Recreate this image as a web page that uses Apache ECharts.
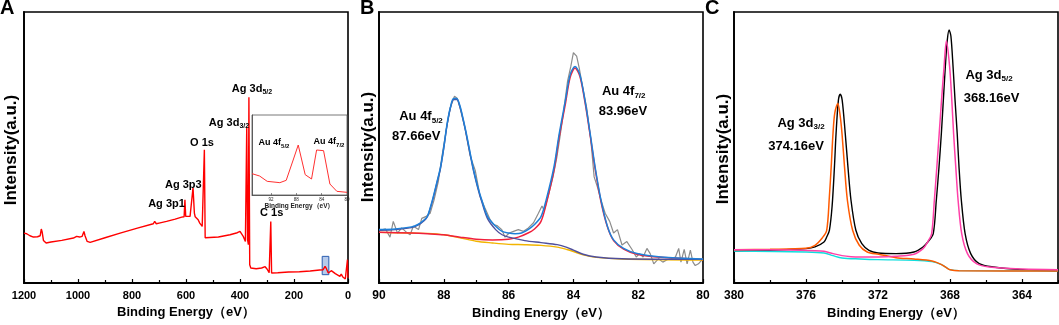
<!DOCTYPE html>
<html>
<head>
<meta charset="utf-8">
<script src="https://cdn.jsdelivr.net/npm/echarts@6/dist/echarts.min.js"></script>
<style>
  html, body { margin: 0; padding: 0; background: #fff; }
  #chart { width: 1059px; height: 325px; }
</style>
</head>
<body>
<div id="chart"></div>
<script>
// ---- panel A: survey spectrum (binding energy, intensity a.u.) ----
const surveyE = [1200, 1190, 1178, 1165, 1150, 1140, 1136, 1133, 1128, 1118, 1100, 1060, 1017, 1005, 999, 994, 985, 978, 974, 966,
  955, 900, 844, 780, 721, 716, 710, 700, 672, 640, 616, 607, 604, 601, 585, 578, 574, 569, 566, 560,
  555, 549, 540, 534, 532, 529, 523, 480, 437, 410, 400, 394, 388, 380, 377, 375, 372, 369, 367, 364,
  360, 340, 320, 307, 300, 292, 288, 286, 283, 260, 220, 180, 140, 105, 92, 85, 80, 73, 62, 55,
  47, 40, 30, 25, 20, 10, 4, 2, 0.5];
const surveyI = [150, 148, 142, 138, 139, 142, 162, 154, 128, 120, 123, 128, 135, 140, 145, 138, 140, 155, 142, 125,
  122, 136, 150, 165, 178, 185, 178, 180, 185, 192, 198, 199, 250, 200, 200, 199, 286, 210, 199, 200,
  190, 180, 170, 166, 400, 136, 130, 138, 145, 151, 155, 154, 140, 125, 121, 468, 130, 115, 558, 55,
  45, 43, 45, 49, 42, 31, 27, 185, 30, 31, 33, 34, 36, 39, 40, 50, 43, 30, 37, 40,
  28, 25, 20, 27, 19, 12, 12, 70, 16];
// highlighted Au 4f window
const auBox = [[95.6, 25], [71, 80]];

// ---- inset: Au 4f region of the survey ----
const insetE = [95, 93.8, 92.6, 90.6, 89.6, 88.5, 87.7, 86.6, 85.6, 84.8, 83.7, 82.7, 81.6, 80];
const insetI = [64, 57, 41, 37, 44, 105, 150, 61, 48, 135, 133, 33, 11, 8];

// ---- panel B: Au 4f high resolution ----
const rawE = [89.97, 89.8, 89.66, 89.56, 89.43, 89.3, 89.15, 89.04, 88.94, 88.78,
  88.68, 88.56, 88.42, 88.3, 88.17, 88.06, 87.93, 87.8, 87.67, 87.58,
  87.5, 87.34, 87.19, 87.03, 86.88, 86.73, 86.57, 86.47, 86.36, 86.21,
  86.11, 85.98, 85.85, 85.7, 85.54, 85.39, 85.23, 85.08, 84.97, 84.9,
  84.77, 84.63, 84.51, 84.41, 84.3, 84.18, 84.08, 84.0, 83.9, 83.82,
  83.71, 83.59, 83.46, 83.36, 83.26, 83.15, 83.02, 82.88, 82.76, 82.64,
  82.5, 82.35, 82.19, 82.06, 81.96, 81.85, 81.73, 81.63, 81.52, 81.37,
  81.24, 81.11, 80.99, 80.85, 80.75, 80.68, 80.58, 80.49, 80.39, 80.31,
  80.24, 80.14, 80.0];
const rawI = [154, 158, 134, 180, 146, 161, 148, 141, 166, 156,
  189, 194, 204, 243, 296, 368, 445, 512, 546, 539,
  512, 450, 373, 329, 253, 219, 185, 171, 168, 156,
  134, 146, 151, 156, 151, 161, 176, 204, 225, 212,
  257, 310, 368, 430, 503, 590, 633, 673, 663, 628,
  570, 512, 416, 310, 281, 243, 204, 180, 146, 156,
  111, 121, 98, 76, 86, 76, 101, 86, 56, 71,
  61, 68, 71, 76, 101, 61, 98, 56, 96, 61,
  51, 56, 71];
const envE = [90, 89.5, 89, 88.8, 88.6, 88.5, 88.35, 88.2, 88.1, 88, 87.9, 87.8, 87.7, 87.6, 87.5, 87.4, 87.3, 87.1, 86.95, 86.83,
  86.65, 86.4, 86.2, 86, 85.8, 85.6, 85.4, 85.2, 85, 84.84, 84.6, 84.44, 84.25, 84.1, 83.95, 83.8, 83.64, 83.48, 83.33, 83.15,
  82.95, 82.76, 82.45, 82.04, 81.3, 80];
const envI = [156, 158, 164, 171, 185, 196, 243, 300, 339, 397, 464, 512, 539, 539, 517, 478, 435, 339, 281, 243,
  194, 166, 151, 146, 144, 146, 156, 171, 194, 243, 339, 435, 532, 609, 633, 609, 532, 435, 339, 243,
  166, 126, 101, 86, 76, 70];
const au52E = [90, 89.5, 89, 88.8, 88.6, 88.5, 88.35, 88.2, 88.1, 88, 87.9, 87.8, 87.7, 87.6, 87.5, 87.4, 87.3, 87.1, 86.95, 86.83,
  86.65, 86.4, 86.2, 86, 85.5, 85, 84.5, 84.2, 84, 83.7, 83.3, 82.5, 80];
const au52I = [154, 156, 162, 169, 183, 195, 240, 297, 336, 394, 461, 510, 536, 536, 514, 476, 431, 335, 277, 238,
  188, 156, 141, 134, 124, 118, 112, 104, 96, 84, 76, 71, 69];
const au72E = [90, 89, 88.5, 88, 87.5, 87, 86.5, 86, 85.7, 85.4, 85.2, 85, 84.84, 84.6, 84.44, 84.25, 84.1, 83.95, 83.8, 83.64,
  83.48, 83.33, 83.15, 82.95, 82.76, 82.45, 82.04, 81.3, 80];
const au72I = [148, 146, 144, 141, 134, 128, 126, 128, 134, 146, 158, 180, 231, 329, 426, 522, 601, 628, 604, 527,
  430, 334, 238, 164, 124, 99, 84, 75, 69];
const auBgE = [90, 89, 88.5, 88, 87.5, 87, 86.5, 86, 85.5, 85, 84.5, 84.2, 84, 83.7, 83.3, 82.5, 80];
const auBgI = [148, 146, 145, 141, 132, 122, 117, 113, 112, 110, 105, 98, 92, 82, 75, 70, 67];

// ---- panel C: Ag 3d high resolution ----
const agRawE = [380, 378, 376, 375.5, 375, 374.85, 374.7, 374.55, 374.42, 374.33, 374.2, 374.1, 373.99, 373.82, 373.67, 373.5, 373.23, 372.9, 372.5, 372,
  371, 370, 369.5, 369.2, 368.93, 368.76, 368.61, 368.48, 368.37, 368.26, 368.15, 368.05, 367.95, 367.83, 367.72, 367.6, 367.5, 367.37, 367.16, 366.85,
  366.38, 365.6, 363.96, 362];
const agRawI = [96, 98, 103, 108, 123, 138, 158, 230, 348, 448, 548, 566, 548, 448, 348, 248, 158, 118, 98, 90,
  88, 93, 108, 125, 148, 248, 348, 448, 548, 648, 728, 758, 740, 648, 548, 448, 348, 248, 148, 88,
  58, 48, 40, 36];
const ag32E = [380, 378, 376, 375.5, 375.1, 374.85, 374.7, 374.6, 374.5, 374.4, 374.23, 374.1, 374.0, 373.86, 373.7, 373.41, 373.04, 372.6, 371.96, 371,
  370, 369, 368.5, 368.2, 368, 367.5, 362];
const ag32I = [100, 101, 104, 113, 135, 158, 260, 348, 448, 510, 538, 500, 448, 348, 248, 158, 113, 93, 86, 76,
  72, 66, 56, 46, 40, 37, 36];
const ag52E = [380, 377, 375.5, 375, 374.5, 374, 373.5, 373, 372, 371, 370, 369.5, 369.25, 369.02, 368.87, 368.73, 368.6, 368.47, 368.33, 368.2,
  368.02, 367.9, 367.8, 367.68, 367.55, 367.35, 367.03, 366.53, 365.82, 363.96, 362];
const ag52I = [100, 99, 97, 95, 88, 82, 79, 78, 78, 80, 86, 103, 122, 148, 248, 348, 448, 548, 648, 726,
  648, 548, 448, 348, 248, 148, 88, 58, 48, 42, 40];
const agBgE = [380, 376, 375, 374.5, 374, 373, 372, 370, 369, 368.5, 368.2, 368, 367.5, 362];
const agBgI = [96, 93, 90, 82, 75, 72, 70, 68, 64, 56, 46, 40, 37, 36];

// tick labels for panel C
const agTicks = [364, 368, 372, 376, 380];
const agMinor = [362, 366, 370, 374, 378];

const FONT = '"Liberation Sans", Arial, Helvetica, sans-serif';
const pairs = (xs, ys) => xs.map((x, i) => [x, ys[i]]);

function energyAxis(gridIndex, min, max, interval, fontSize) {
  return {
    type: 'value', gridIndex, min, max, interval, inverse: true, position: 'bottom',
    name: 'Binding Energy（eV）', nameLocation: 'middle', nameGap: 21,
    nameTextStyle: {fontFamily: FONT, fontWeight: 'bold', fontSize: 13, color: '#000'},
    axisLine: {show: true, onZero: false, lineStyle: {color: '#000', width: 1.8}},
    axisTick: {show: true, inside: true, length: 4, lineStyle: {color: '#000', width: 1.2}},
    minorTick: {show: true, splitNumber: 2, length: 3, lineStyle: {color: '#000', width: 1.2}},
    axisLabel: {fontFamily: FONT, fontWeight: 'bold', fontSize, color: '#000', margin: 7,
                formatter: (v) => String(v)},
    splitLine: {show: false}
  };
}

function intensityAxis(gridIndex, max) {
  return {
    type: 'value', gridIndex, min: 0, max,
    axisLine: {show: true, onZero: false, lineStyle: {color: '#000', width: 1.8}},
    axisTick: {show: false}, axisLabel: {show: false}, splitLine: {show: false}
  };
}

function line(xi, data, color, width, smooth) {
  return {
    type: 'line', xAxisIndex: xi, yAxisIndex: Math.min(xi, 3), data, symbol: 'none',
    smooth: smooth || false, lineStyle: {color, width}, silent: true
  };
}

const axisC = energyAxis(3, 362, 380, 2, 12);
axisC.minorTick = {show: false};
axisC.axisTick.customValues = agTicks;
axisC.axisLabel.customValues = agTicks;

const axisCMinor = {
  type: 'value', gridIndex: 3, min: 362, max: 380, inverse: true, position: 'bottom',
  axisLine: {show: false},
  axisTick: {show: true, inside: true, length: 3, customValues: agMinor, lineStyle: {color: '#000', width: 1.2}},
  axisLabel: {show: false}, splitLine: {show: false}
};

const insetX = {
  type: 'value', gridIndex: 1, min: 80, max: 95, interval: 4, inverse: true,
  name: 'Binding Energy（eV）', nameLocation: 'middle', nameGap: 8,
  nameTextStyle: {fontFamily: FONT, fontWeight: 'bold', fontSize: 6.5, color: '#222'},
  axisLine: {show: true, onZero: false, lineStyle: {color: '#444', width: 0.8}},
  axisTick: {show: true, inside: true, length: 2, lineStyle: {color: '#444', width: 0.6}},
  axisLabel: {fontFamily: FONT, fontSize: 4.5, color: '#222', margin: 2, showMaxLabel: false},
  splitLine: {show: false}
};

const subRich = (size) => ({
  m: {fontFamily: FONT, fontWeight: 'bold', fontSize: size, fill: '#000', lineHeight: size + 3},
  s: {fontFamily: FONT, fontWeight: 'bold', fontSize: Math.round(size * 0.62), fill: '#000',
      verticalAlign: 'bottom', lineHeight: Math.round(size * 0.62)}
});

function note(x, y, main, sub, size) {
  return {
    type: 'text', x, y, z: 100, silent: true,
    style: {
      text: '{m|' + main + '}' + (sub ? '{s|' + sub + '}' : ''),
      rich: subRich(size), align: 'center', verticalAlign: 'middle'
    }
  };
}

function yTitle(x, y) {
  return {
    type: 'text', x, y, rotation: Math.PI / 2, z: 100, silent: true,
    style: {text: 'Intensity(a.u.)', fontFamily: FONT, fontWeight: 'bold', fontSize: 17,
            fill: '#000', align: 'center', verticalAlign: 'middle'}
  };
}

function letter(x, text) {
  return {
    type: 'text', x, y: 8, z: 100, silent: true,
    style: {text, fontFamily: FONT, fontWeight: 'bold', fontSize: 20, fill: '#000',
            align: 'left', verticalAlign: 'middle'}
  };
}

const chart = echarts.init(document.getElementById('chart'), null, {renderer: 'canvas'});

const survey = line(0, pairs(surveyE, surveyI), '#ff0000', 1.4);
survey.markArea = {
  silent: true,
  itemStyle: {color: 'rgba(110,150,215,0.5)', borderColor: '#2a5db0', borderWidth: 1},
  data: [[{coord: auBox[0]}, {coord: auBox[1]}]]
};

chart.setOption({
  animation: false,
  backgroundColor: '#fff',
  grid: [
    {left: 24, top: 12, width: 324, height: 271, show: true, borderColor: '#000', borderWidth: 1.6},
    {left: 252, top: 115, width: 95, height: 80, show: true, borderColor: '#555', borderWidth: 0.8},
    {left: 379, top: 12, width: 324, height: 271, show: true, borderColor: '#000', borderWidth: 1.6},
    {left: 734, top: 12, width: 324, height: 271, show: true, borderColor: '#000', borderWidth: 1.6}
  ],
  xAxis: [
    energyAxis(0, 0, 1200, 200, 11),
    insetX,
    energyAxis(2, 80, 90, 2, 12),
    axisC,
    axisCMinor
  ],
  yAxis: [
    intensityAxis(0, 814),
    Object.assign(intensityAxis(1, 240), {axisLine: {show: true, lineStyle: {color: '#444', width: 0.8}}}),
    intensityAxis(2, 792),
    intensityAxis(3, 812)
  ],
  series: [
    survey,
    line(1, pairs(insetE, insetI), '#ff3030', 1),
    line(2, pairs(rawE, rawI), '#8c8c8c', 1.2),
    line(2, pairs(auBgE, auBgI), '#f2b400', 1.4, 0.3),
    line(2, pairs(au72E, au72I), '#f0203c', 1.5, 0.3),
    line(2, pairs(au52E, au52I), '#4f4f9c', 1.4, 0.3),
    line(2, pairs(envE, envI), '#1f80d8', 1.5, 0.3),
    line(3, pairs(agRawE, agRawI), '#000000', 1.4, 0.3),
    line(3, pairs(agBgE, agBgI), '#10dede', 1.4, 0.3),
    line(3, pairs(ag32E, ag32I), '#ff5a00', 1.5, 0.3),
    line(3, pairs(ag52E, ag52I), '#ff40a8', 1.5, 0.3)
  ],
  graphic: [
    letter(0, 'A'), letter(360, 'B'), letter(705, 'C'),
    yTitle(11.5, 150), yTitle(368.5, 147), yTitle(723, 149),
    note(166.5, 204, 'Ag 3p1', null, 11),
    note(183.3, 184.5, 'Ag 3p3', null, 11),
    note(202, 142.5, 'O 1s', null, 11),
    note(229, 123, 'Ag 3d', '3/2', 11),
    note(252, 89, 'Ag 3d', '5/2', 11),
    note(271.7, 213, 'C 1s', null, 11),
    note(274, 143, 'Au 4f', '5/2', 9),
    note(329, 142, 'Au 4f', '7/2', 9),
    note(421, 116.5, 'Au 4f', '5/2', 13),
    note(416.3, 136, '87.66eV', null, 13),
    note(623.7, 91.5, 'Au 4f', '7/2', 13),
    note(623, 111, '83.96eV', null, 13),
    note(801, 123, 'Ag 3d', '3/2', 13),
    note(796, 146.7, '374.16eV', null, 13),
    note(989, 75, 'Ag 3d', '5/2', 13),
    note(991.5, 98.3, '368.16eV', null, 13)
  ]
});

window.addEventListener('resize', function () {
  chart.resize();
});
</script>
</body>
</html>
